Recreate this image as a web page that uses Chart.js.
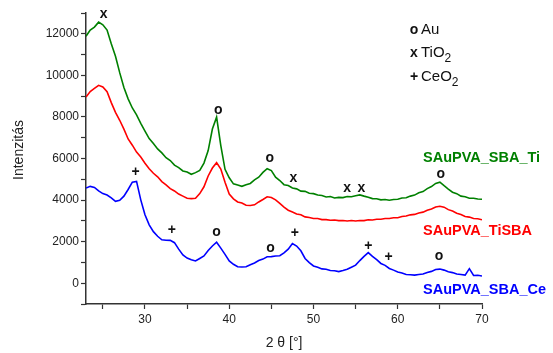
<!DOCTYPE html>
<html>
<head>
<meta charset="utf-8">
<script src="https://cdn.jsdelivr.net/npm/chart.js@4.4.1/dist/chart.umd.min.js"></script>
<style>
  html, body { margin: 0; padding: 0; background: #fff; }
  #wrap { width: 553px; height: 353px; position: relative; }
</style>
</head>
<body>
<div id="wrap"><canvas id="grafico"></canvas></div>
<script>
// 2 theta positions (degrees)
const dosTheta = [23, 23.5, 24, 24.5, 25, 25.5, 26, 26.5, 27, 27.5, 28, 28.5, 29, 29.5, 30, 30.5, 31, 31.5, 32, 32.5,
  33, 33.5, 34, 34.5, 35, 35.5, 36, 36.5, 37, 37.5, 38, 38.5, 39, 39.5, 40, 40.5, 41, 41.5, 42, 42.5,
  43, 43.5, 44, 44.5, 45, 45.5, 46, 46.5, 47, 47.5, 48, 48.5, 49, 49.5, 50, 50.5, 51, 51.5, 52, 52.5,
  53, 53.5, 54, 54.5, 55, 55.5, 56, 56.5, 57, 57.5, 58, 58.5, 59, 59.5, 60, 60.5, 61, 61.5, 62, 62.5,
  63, 63.5, 64, 64.5, 65, 65.5, 66, 66.5, 67, 67.5, 68, 68.5, 69, 69.5, 70];

// SAuPVA_SBA_Ti
const serieTi = [11880, 12180, 12320, 12560, 12430, 12180, 11520, 10920, 10130, 9420, 8870, 8430, 8100, 7690, 7320, 6960, 6720, 6460, 6270, 6040,
  5900, 5680, 5560, 5400, 5350, 5240, 5320, 5430, 5780, 6380, 7420, 7990, 6620, 5480, 5070, 4780, 4720, 4660, 4740, 4800,
  4970, 5100, 5330, 5510, 5420, 5100, 4940, 4740, 4700, 4580, 4540, 4430, 4420, 4330, 4310, 4240, 4220, 4150, 4170, 4100,
  4130, 4120, 4170, 4160, 4210, 4250, 4190, 4140, 4070, 4060, 4010, 4030, 3990, 4030, 4040, 4100, 4110, 4190, 4240, 4350,
  4410, 4550, 4650, 4800, 4860, 4690, 4530, 4380, 4310, 4190, 4160, 4090, 4090, 4050, 4040];

// SAuPVA_TiSBA
const serieTiSBA = [8960, 9220, 9370, 9520, 9440, 9210, 8690, 8220, 7840, 7410, 6940, 6640, 6310, 6070, 5770, 5510, 5290, 5120, 4890, 4730,
  4550, 4440, 4290, 4190, 4090, 4070, 4090, 4310, 4640, 5160, 5540, 5800, 5490, 4860, 4290, 4060, 3910, 3860, 3750, 3740,
  3770, 3910, 4030, 4160, 4120, 4010, 3840, 3660, 3510, 3430, 3330, 3290, 3190, 3160, 3110, 3110, 3060, 3060, 3030, 3040,
  3010, 3020, 2990, 3020, 2990, 3020, 3010, 3050, 3040, 3080, 3080, 3110, 3110, 3150, 3150, 3210, 3230, 3290, 3310, 3380,
  3420, 3510, 3570, 3670, 3700, 3660, 3540, 3470, 3370, 3310, 3210, 3180, 3110, 3100, 3050];

// SAuPVA_SBA_Ce
const serieCe = [4580, 4660, 4610, 4440, 4310, 4240, 4110, 3940, 3990, 4190, 4510, 4860, 4900, 4010, 3290, 2810, 2480, 2260, 2090, 2070,
  2060, 1950, 1640, 1360, 1210, 1130, 1070, 1190, 1310, 1570, 1790, 1970, 1690, 1390, 1070, 910, 790, 780, 790, 890,
  970, 1090, 1160, 1270, 1280, 1310, 1320, 1460, 1640, 1910, 1790, 1560, 1190, 990, 830, 770, 690, 670, 610, 600,
  560, 610, 670, 770, 870, 1090, 1290, 1470, 1290, 1130, 950, 860, 710, 630, 540, 490, 420, 410, 390, 420,
  440, 520, 570, 660, 680, 630, 550, 510, 440, 420, 390, 700, 370, 380, 350];

// peak markers (2 theta, intensity, symbol)
const marcadores = [
  { x: 25.1, y: 12930, s: "x" },
  { x: 38.7, y: 8350, s: "o" },
  { x: 44.8, y: 6040, s: "o" },
  { x: 47.6, y: 5060, s: "x" },
  { x: 54.0, y: 4580, s: "x" },
  { x: 55.7, y: 4580, s: "x" },
  { x: 65.1, y: 5270, s: "o" },
  { x: 28.9, y: 5350, s: "+" },
  { x: 33.2, y: 2540, s: "+" },
  { x: 38.5, y: 2440, s: "o" },
  { x: 44.9, y: 1690, s: "o" },
  { x: 47.8, y: 2410, s: "+" },
  { x: 56.5, y: 1800, s: "+" },
  { x: 58.9, y: 1250, s: "+" },
  { x: 64.9, y: 1290, s: "o" }
];

const nombresSeries = ["SAuPVA_SBA_Ti", "SAuPVA_TiSBA", "SAuPVA_SBA_Ce"];
const coloresSeries = ["#008000", "#ff0000", "#0000ff"];
const ticksX = [25, 30, 35, 40, 45, 50, 55, 60, 65, 70];
const ticksY = [-1000, 0, 1000, 2000, 3000, 4000, 5000, 6000, 7000, 8000, 9000, 10000, 11000, 12000, 13000];

const fuente = "'Liberation Sans', Arial, sans-serif";

function puntos(serie) {
  return serie.map((v, i) => ({ x: dosTheta[i], y: v }));
}

const textos = {
  id: "textos",
  afterDraw(chart) {
    const ctx = chart.ctx;
    const sx = chart.scales.x;
    const sy = chart.scales.y;
    ctx.save();
    ctx.fillStyle = "#111";
    ctx.font = "bold 14px " + fuente;
    ctx.textAlign = "center";
    ctx.textBaseline = "middle";
    for (const m of marcadores) {
      ctx.fillText(m.s, sx.getPixelForValue(m.x), sy.getPixelForValue(m.y));
    }

    // key
    const kx = 414;
    ctx.textAlign = "center";
    ctx.fillText("o", kx, 30);
    ctx.fillText("x", kx, 53);
    ctx.fillText("+", kx, 77);
    ctx.textAlign = "left";
    ctx.font = "15px " + fuente;
    ctx.fillText("Au", 421, 30);
    ctx.fillText("TiO", 421, 53);
    ctx.fillText("CeO", 421, 77);
    const w1 = ctx.measureText("TiO").width;
    const w2 = ctx.measureText("CeO").width;
    ctx.font = "12px " + fuente;
    ctx.fillText("2", 421 + w1, 59);
    ctx.fillText("2", 421 + w2, 83);

    // series names
    ctx.font = "bold 14.5px " + fuente;
    const posNombres = [158, 231, 290];
    nombresSeries.forEach((n, i) => {
      ctx.fillStyle = coloresSeries[i];
      ctx.fillText(n, 423, posNombres[i]);
    });

    // axis titles
    ctx.fillStyle = "#222";
    ctx.font = "14px " + fuente;
    ctx.textAlign = "center";
    ctx.fillText("2 \u03b8 [\u00b0]", (sx.left + sx.right) / 2, 343);
    ctx.translate(19, 150);
    ctx.rotate(-Math.PI / 2);
    ctx.fillText("Intenzit\u00e1s", 0, 0);
    ctx.restore();
  }
};

const contexto = document.getElementById("grafico").getContext("2d");
new Chart(contexto, {
  type: "line",
  data: {
    datasets: [serieTi, serieTiSBA, serieCe].map((s, i) => ({
      label: nombresSeries[i],
      data: puntos(s),
      borderColor: coloresSeries[i],
      borderWidth: 1.6,
      pointRadius: 0,
      tension: 0
    }))
  },
  options: {
    responsive: true,
    maintainAspectRatio: false,
    animation: false,
    layout: { padding: { top: 13, right: 71, left: 0, bottom: 0 } },
    plugins: { legend: { display: false }, tooltip: { enabled: false } },
    scales: {
      x: {
        type: "linear",
        min: 23,
        max: 70,
        afterBuildTicks: (s) => { s.ticks = ticksX.map((v) => ({ value: v })); },
        afterFit: (s) => { s.height = 49; },
        border: { display: true, color: "#333", width: 1.5 },
        grid: { drawOnChartArea: false, drawTicks: true, tickLength: 5, tickColor: "#333", tickWidth: 1.2 },
        ticks: {
          color: "#222",
          font: { family: fuente, size: 12 },
          padding: 3,
          maxRotation: 0,
          autoSkip: false,
          callback: (v) => (v % 10 === 0 ? v : "")
        }
      },
      y: {
        type: "linear",
        min: -1000,
        max: 13000,
        afterBuildTicks: (s) => { s.ticks = ticksY.map((v) => ({ value: v })); },
        afterFit: (s) => { s.width = 86; },
        border: { display: true, color: "#333", width: 1.5 },
        grid: { drawOnChartArea: false, drawTicks: true, tickLength: 5, tickColor: "#333", tickWidth: 1.2 },
        ticks: {
          color: "#222",
          font: { family: fuente, size: 12 },
          padding: 2,
          autoSkip: false,
          callback: (v) => (v % 2000 === 0 ? v : "")
        }
      }
    }
  },
  plugins: [textos]
});
</script>
</body>
</html>
